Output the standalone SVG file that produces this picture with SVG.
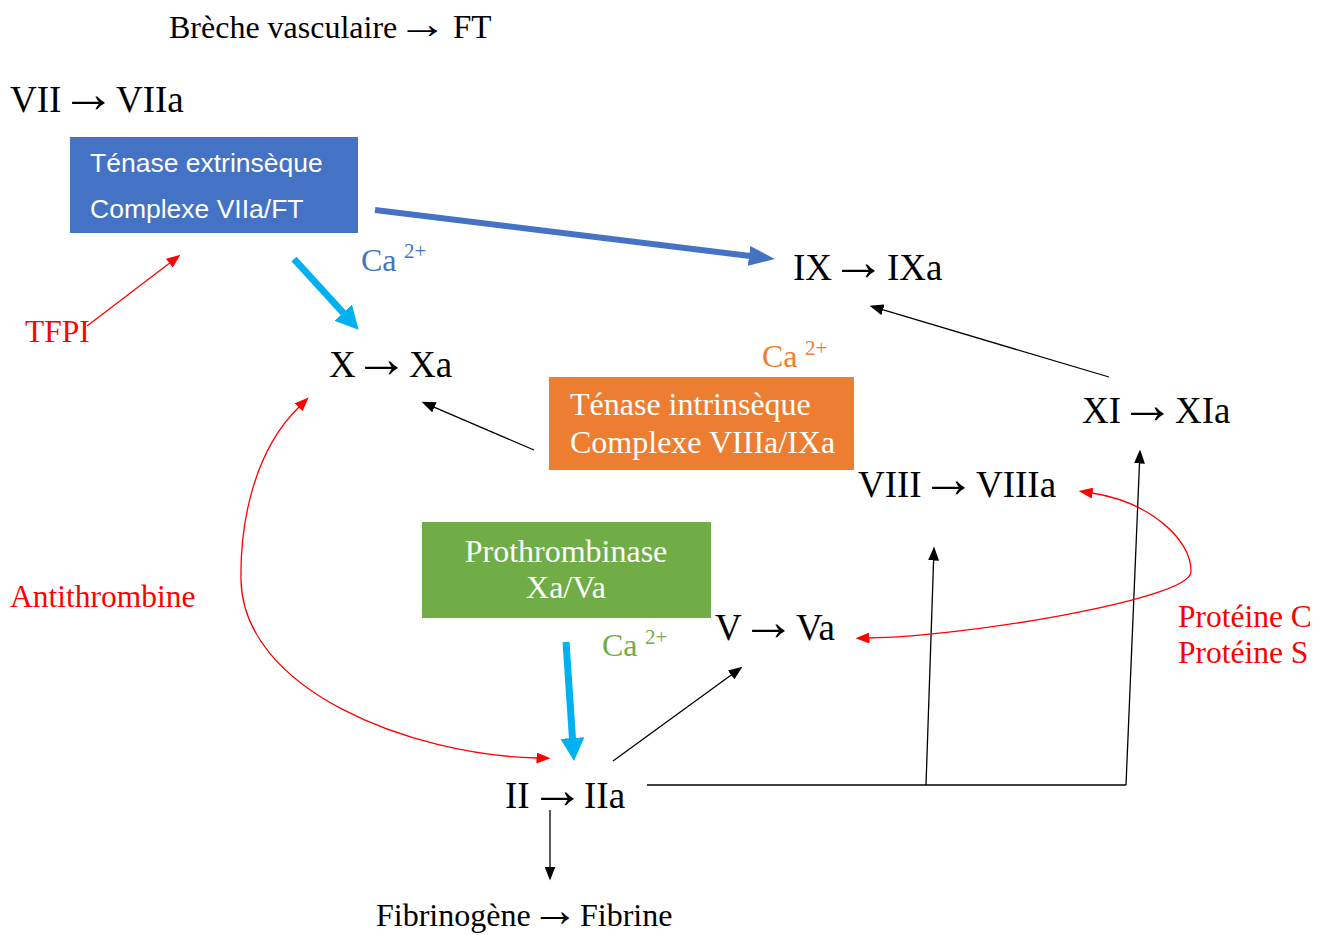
<svg xmlns="http://www.w3.org/2000/svg" width="1328" height="935" viewBox="0 0 1328 935">
<style>
.t{font-family:"Liberation Serif","Times New Roman",serif;fill:#000}
.f{font-size:37px}
.r{fill:#FF0000;font-size:31.5px}
.w{fill:#fff;font-size:32px}
.s{font-family:"Liberation Sans",Arial,sans-serif;fill:#fff;font-size:26.5px}
.ca{font-size:32px}
.sup{font-size:21px}
.a1{font-size:55px}
.lb{fill:none;stroke:#000;stroke-width:1.3}
.lr{fill:none;stroke:#FF0000;stroke-width:1.3}
</style>
<defs>
<marker id="ab" markerUnits="userSpaceOnUse" markerWidth="14" markerHeight="11" refX="0.5" refY="5.5" orient="auto"><path d="M0,0 L14,5.5 L0,11 z" fill="#000"/></marker>
<marker id="ar" markerUnits="userSpaceOnUse" markerWidth="14" markerHeight="11" refX="0.5" refY="5.5" orient="auto-start-reverse"><path d="M0,0 L14,5.5 L0,11 z" fill="#FF0000"/></marker>
<marker id="abl" markerUnits="userSpaceOnUse" markerWidth="26" markerHeight="20" refX="1" refY="10" orient="auto"><path d="M0,0 L26,10 L0,20 z" fill="#4472C4"/></marker>
<marker id="acy" markerUnits="userSpaceOnUse" markerWidth="23" markerHeight="24" refX="1" refY="12" orient="auto"><path d="M0,0 L23,12 L0,24 z" fill="#00B0F0"/></marker>
</defs>
<rect width="1328" height="935" fill="#fff"/>

<g id="connectors">
<line x1="375" y1="210" x2="750" y2="256" stroke="#4472C4" stroke-width="6" marker-end="url(#abl)"/>
<line x1="294" y1="259" x2="343.8" y2="313.5" stroke="#00B0F0" stroke-width="7" marker-end="url(#acy)"/>
<line x1="566" y1="642" x2="572.5" y2="739" stroke="#00B0F0" stroke-width="7" marker-end="url(#acy)"/>
<line class="lr" x1="87" y1="326" x2="169.7" y2="262.9" marker-end="url(#ar)"/>
<line class="lb" x1="534" y1="450" x2="434" y2="407.1" marker-end="url(#ab)"/>
<line class="lb" x1="1109" y1="377" x2="882.5" y2="309.7" marker-end="url(#ab)"/>
<line class="lb" x1="613" y1="761" x2="731.5" y2="674.7" marker-end="url(#ab)"/>
<line class="lb" x1="647" y1="785" x2="1126" y2="785"/>
<line class="lb" x1="926" y1="785" x2="933.6" y2="560" marker-end="url(#ab)"/>
<line class="lb" x1="1126" y1="785" x2="1139.5" y2="463" marker-end="url(#ab)"/>
<line class="lb" x1="550" y1="810" x2="550" y2="867" marker-end="url(#ab)"/>
<path class="lr" d="M299,407 C255,450 240,520 241,580 C243,690 410,755 537,758" marker-start="url(#ar)" marker-end="url(#ar)"/>
<path class="lr" d="M1092,493 C1150,502 1192,540 1191,572 C1190,600 960,637 869,638" marker-start="url(#ar)" marker-end="url(#ar)"/>
</g>

<g id="breche"><text class="t" x="169" y="38" font-size="32">Brèche vasculaire<tspan x="397" font-size="42" textLength="50" lengthAdjust="spacingAndGlyphs">→</tspan><tspan x="453" font-size="33">FT</tspan></text></g>
<g id="vii"><text class="t f" x="10" y="112">VII<tspan class="a1" x="61">→</tspan><tspan x="116">VIIa</tspan></text></g>
<g id="tenase-ext">
<rect x="70" y="137" width="288" height="96" fill="#4472C4"/>
<text class="s" x="90" y="172">Ténase extrinsèque</text>
<text class="s" x="90" y="218">Complexe VIIa/FT</text>
</g>
<g id="ca-blue"><text class="t ca" x="361" y="271" style="fill:#4472C4">Ca</text><text class="t sup" x="404" y="258" style="fill:#4472C4">2+</text></g>
<g id="ix"><text class="t f" x="793" y="280">IX<tspan class="a1" x="831">→</tspan><tspan x="887">IXa</tspan></text></g>
<g id="tfpi"><text class="t r" x="25" y="342">TFPI</text></g>
<g id="x"><text class="t f" x="329" y="377">X<tspan class="a1" x="354">→</tspan><tspan x="409">Xa</tspan></text></g>
<g id="ca-orange"><text class="t ca" x="762" y="367" style="fill:#ED7D31">Ca</text><text class="t sup" x="805" y="355" style="fill:#ED7D31">2+</text></g>
<g id="tenase-int">
<rect x="549" y="377" width="305" height="93" fill="#ED7D31"/>
<text class="t w" x="570" y="415">Ténase intrinsèque</text>
<text class="t w" x="570" y="453">Complexe VIIIa/IXa</text>
</g>
<g id="xi"><text class="t f" x="1082" y="423">XI<tspan class="a1" x="1120">→</tspan><tspan x="1175">XIa</tspan></text></g>
<g id="viii"><text class="t f" x="858" y="497">VIII<tspan class="a1" x="921">→</tspan><tspan x="976">VIIIa</tspan></text></g>
<g id="prothrombinase">
<rect x="422" y="522" width="289" height="96" fill="#70AD47"/>
<text class="t w" x="566" y="562" text-anchor="middle">Prothrombinase</text>
<text class="t w" x="566" y="598" text-anchor="middle">Xa/Va</text>
</g>
<g id="antithrombine"><text class="t r" x="10" y="607">Antithrombine</text></g>
<g id="proteines">
<text class="t r" x="1178" y="627">Protéine C</text>
<text class="t r" x="1178" y="663">Protéine S</text>
</g>
<g id="v"><text class="t f" x="715" y="640">V<tspan class="a1" x="741">→</tspan><tspan x="796">Va</tspan></text></g>
<g id="ca-green"><text class="t ca" x="602" y="656" style="fill:#70AD47">Ca</text><text class="t sup" x="645" y="644" style="fill:#70AD47">2+</text></g>
<g id="ii"><text class="t f" x="505" y="808">II<tspan class="a1" x="530">→</tspan><tspan x="584">IIa</tspan></text></g>
<g id="fibrine"><text class="t" x="376" y="926" font-size="32">Fibrinogène<tspan x="531" font-size="47.5">→</tspan><tspan x="580">Fibrine</tspan></text></g>
</svg>
